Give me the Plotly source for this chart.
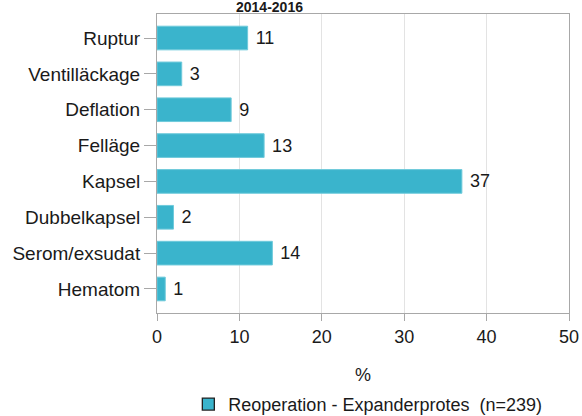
import plotly.graph_objects as go

categories = ["Ruptur", "Ventilläckage", "Deflation", "Felläge", "Kapsel",
              "Dubbelkapsel", "Serom/exsudat", "Hematom"]
values = [11, 3, 9, 13, 37, 2, 14, 1]
series_name = "Reoperation - Expanderprotes&nbsp;&nbsp;(n=239)"
title_text = "2014-2016"
x_ticks = [0, 10, 20, 30, 40, 50]

FONT = "Liberation Sans, Arial, sans-serif"
BAR = "#3ab4cc"

fig = go.Figure()
fig.add_trace(go.Bar(
    y=categories, x=values, orientation="h",
    name=series_name,
    marker=dict(color=BAR, line=dict(color="#6fcadb", width=1)),
    width=0.66,
    text=values, texttemplate=" %{x}", textposition="outside",
    textfont=dict(size=18, color="#1a1a1a", family=FONT),
    cliponaxis=False,
    showlegend=False,
))
# legend entry (no marks drawn)
fig.add_trace(go.Bar(
    y=[None], x=[None], orientation="h", name=series_name,
    marker=dict(color=BAR, line=dict(color="#222222", width=1.3)),
    showlegend=True,
))

fig.update_layout(
    width=582, height=416,
    margin=dict(l=157, r=13, t=14, b=103, autoexpand=False),
    paper_bgcolor="white", plot_bgcolor="white",
    font=dict(family=FONT, size=18, color="#1a1a1a"),
    showlegend=True,
    legend=dict(orientation="h", xref="container", x=0.632, xanchor="center",
                yref="container", y=0.028, yanchor="middle",
                font=dict(size=18, color="#1a1a1a"), itemwidth=30,
                tracegroupgap=0),
    xaxis=dict(range=[0, 50], tickvals=x_ticks, showgrid=True, gridcolor="#e3e3e3",
               gridwidth=1, zeroline=False, showline=True, linecolor="#a8a8a8",
               mirror=True, ticks="outside", ticklen=7, tickcolor="#a8a8a8",
               tickfont=dict(size=18), automargin=False,
               title=dict(text="%", font=dict(size=18), standoff=22)),
    yaxis=dict(categoryorder="array", categoryarray=categories, autorange=False,
               range=[7.67, -0.67], showgrid=False, showline=True, linecolor="#a8a8a8",
               mirror=True, ticks="outside", ticklen=12, tickcolor="#a8a8a8",
               tickfont=dict(size=19), automargin=False),
    barmode="overlay",
)

fig.add_annotation(text="<b>" + title_text + "</b>", xref="paper", yref="paper",
                   x=0.272, xanchor="center", y=1.0, yanchor="bottom", yshift=-3,
                   showarrow=False,
                   font=dict(size=14, color="#1a1a1a", family=FONT))

fig.write_html("out.html", config={"displayModeBar": False},
               post_script="document.body.style.margin='0';")
